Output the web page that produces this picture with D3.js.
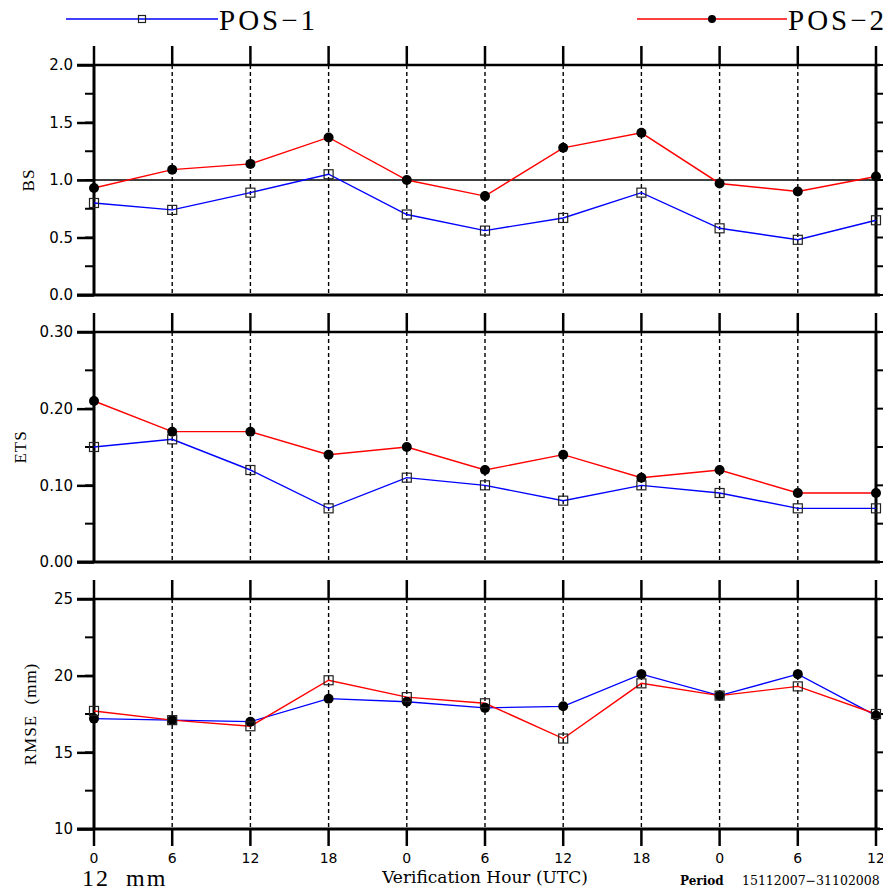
<!DOCTYPE html>
<html>
<head>
<meta charset="utf-8">
<script src="https://cdn.jsdelivr.net/npm/d3@7"></script>
<style>
  body { margin: 0; background: #fff; }
  svg { display: block; }
</style>
</head>
<body>
<svg id="chart" width="883" height="890"></svg>
<script>
// verification hours along the x axis
var hours = ["0", "6", "12", "18", "0", "6", "12", "18", "0", "6", "12"];

var seriesNames = ["POS\u22121", "POS\u22122"];

var bsPos1 = [0.80, 0.74, 0.89, 1.05, 0.70, 0.56, 0.67, 0.89, 0.58, 0.48, 0.65];
var bsPos2 = [0.93, 1.09, 1.14, 1.37, 1.00, 0.86, 1.28, 1.41, 0.97, 0.90, 1.03];

var etsPos1 = [0.15, 0.16, 0.12, 0.07, 0.11, 0.10, 0.08, 0.10, 0.09, 0.07, 0.07];
var etsPos2 = [0.21, 0.17, 0.17, 0.14, 0.15, 0.12, 0.14, 0.11, 0.12, 0.09, 0.09];

var rmsePos1 = [17.2, 17.1, 17.0, 18.5, 18.3, 17.9, 18.0, 20.1, 18.7, 20.1, 17.4];
var rmsePos2 = [17.7, 17.1, 16.7, 19.7, 18.6, 18.2, 15.9, 19.5, 18.7, 19.3, 17.5];

var bsTicks = [0.0, 0.5, 1.0, 1.5, 2.0];
var etsTicks = [0.00, 0.10, 0.20, 0.30];
var rmseTicks = [10, 15, 20, 25];

var svg = d3.select("#chart");

var left = 94, right = 876;
var x = d3.scaleLinear()
    .domain([0, hours.length - 1])
    .range([left, right]);

var colors = ["#0000ff", "#ff0000"];

var panels = [
    {label: "BS", top: 65, bottom: 295, domain: [0, 2], ticks: bsTicks, minor: 0.25, fmt: d3.format(".1f"),
     data: [bsPos1, bsPos2], marks: ["square", "dot"], refLine: 1.0, labelX: 28},
    {label: "ETS", top: 332, bottom: 562, domain: [0, 0.3], ticks: etsTicks, minor: 0.05, fmt: d3.format(".2f"),
     data: [etsPos1, etsPos2], marks: ["square", "dot"], labelX: 20},
    {label: "RMSE  (mm)", top: 599, bottom: 829, domain: [10, 25], ticks: rmseTicks, minor: 2.5, fmt: d3.format("d"),
     data: [rmsePos1, rmsePos2], marks: ["dot", "square"], labelX: 30}
];

panels.forEach(function(p, pi) {
    var y = d3.scaleLinear().domain(p.domain).range([p.bottom, p.top]);
    var g = svg.append("g");

    // dashed verticals
    g.selectAll(".grid")
        .data(d3.range(1, hours.length - 1))
        .enter().append("line")
        .attr("x1", function(d) { return x(d); })
        .attr("x2", function(d) { return x(d); })
        .attr("y1", p.top)
        .attr("y2", p.bottom)
        .attr("stroke", "#000")
        .attr("stroke-width", 1.4)
        .attr("stroke-dasharray", "4,3");

    // top ticks (outward)
    g.selectAll(".ttick")
        .data(d3.range(hours.length))
        .enter().append("line")
        .attr("x1", function(d) { return x(d); })
        .attr("x2", function(d) { return x(d); })
        .attr("y1", p.top - 19)
        .attr("y2", p.top)
        .attr("stroke", "#000")
        .attr("stroke-width", 2.5);

    if (pi == panels.length - 1) {
        g.selectAll(".btick")
            .data(d3.range(hours.length))
            .enter().append("line")
            .attr("x1", function(d) { return x(d); })
            .attr("x2", function(d) { return x(d); })
            .attr("y1", p.bottom)
            .attr("y2", p.bottom + 17)
            .attr("stroke", "#000")
            .attr("stroke-width", 2.5);

        g.selectAll(".xlab")
            .data(hours)
            .enter().append("text")
            .attr("x", function(d, i) { return x(i); })
            .attr("y", p.bottom + 34)
            .attr("text-anchor", "middle")
            .style("font-family", "DejaVu Sans")
            .style("font-size", "14px")
            .text(function(d) { return d; });
    }

    // minor + major ticks
    var minorTicks = d3.range(p.domain[0], p.domain[1] + p.minor / 2, p.minor);
    g.selectAll(".mtick")
        .data(minorTicks)
        .enter().append("line")
        .attr("x1", left - 9)
        .attr("x2", left)
        .attr("y1", function(d) { return y(d); })
        .attr("y2", function(d) { return y(d); })
        .attr("stroke", "#000")
        .attr("stroke-width", 2);
    g.selectAll(".rtick")
        .data(minorTicks)
        .enter().append("line")
        .attr("x1", right)
        .attr("x2", right + 8)
        .attr("y1", function(d) { return y(d); })
        .attr("y2", function(d) { return y(d); })
        .attr("stroke", "#000")
        .attr("stroke-width", 2);

    var yAxis = d3.axisLeft(y)
        .tickValues(p.ticks)
        .tickFormat(p.fmt)
        .tickSize(17)
        .tickPadding(4);
    var ax = g.append("g")
        .attr("transform", "translate(" + left + ",0)")
        .call(yAxis);
    ax.select(".domain").remove();
    ax.selectAll(".tick line").attr("stroke-width", 2.5);
    ax.selectAll(".tick text")
        .style("font-family", "DejaVu Sans")
        .style("font-size", "15px")
        .attr("fill", "#000");

    // frame
    g.append("line").attr("x1", left - 17).attr("x2", right + 4)
        .attr("y1", p.top).attr("y2", p.top).attr("stroke", "#000").attr("stroke-width", 2.5);
    g.append("line").attr("x1", left - 17).attr("x2", right + 4)
        .attr("y1", p.bottom).attr("y2", p.bottom).attr("stroke", "#000").attr("stroke-width", 3);
    g.append("line").attr("x1", left).attr("x2", left)
        .attr("y1", p.top).attr("y2", p.bottom).attr("stroke", "#000").attr("stroke-width", 3);
    g.append("line").attr("x1", right).attr("x2", right)
        .attr("y1", p.top).attr("y2", p.bottom).attr("stroke", "#000").attr("stroke-width", 3);

    if (p.refLine != null) {
        g.append("line").attr("x1", left - 17).attr("x2", right)
            .attr("y1", y(p.refLine)).attr("y2", y(p.refLine))
            .attr("stroke", "#000").attr("stroke-width", 1.3);
    }

    g.append("text")
        .attr("transform", "translate(" + p.labelX + "," + ((p.top + p.bottom) / 2) + ") rotate(-90)")
        .attr("text-anchor", "middle")
        .attr("dy", "0.35em")
        .attr("xml:space", "preserve")
        .style("white-space", "pre")
        .style("font-family", "Liberation Serif")
        .style("font-size", "17px")
        .style("letter-spacing", "1px")
        .text(p.label);

    var line = d3.line()
        .x(function(d, i) { return x(i); })
        .y(function(d) { return y(d); });

    p.data.forEach(function(vals, si) {
        g.append("path")
            .datum(vals)
            .attr("d", line)
            .attr("fill", "none")
            .attr("stroke", colors[si])
            .attr("stroke-width", 1.4);
    });

    p.data.forEach(function(vals, si) {
        if (p.marks[si] == "dot") {
            g.selectAll(".dot" + si)
                .data(vals)
                .enter().append("circle")
                .attr("cx", function(d, i) { return x(i); })
                .attr("cy", function(d) { return y(d); })
                .attr("r", 5)
                .attr("fill", "#000");
        } else {
            g.selectAll(".sq" + si)
                .data(vals)
                .enter().append("rect")
                .attr("x", function(d, i) { return x(i) - 4.5; })
                .attr("y", function(d) { return y(d) - 4.5; })
                .attr("width", 9)
                .attr("height", 9)
                .attr("fill", "none")
                .attr("stroke", "#222")
                .attr("stroke-width", 1.2);
        }
    });
});

// legend
var legend = svg.append("g");
var legendItems = [
    {x1: 66, x2: 218, mark: "square"},
    {x1: 637, x2: 787, mark: "dot"}
];
legendItems.forEach(function(item, i) {
    legend.append("line")
        .attr("x1", item.x1).attr("x2", item.x2)
        .attr("y1", 19).attr("y2", 19)
        .attr("stroke", colors[i])
        .attr("stroke-width", 1.4);
    var mx = (item.x1 + item.x2) / 2;
    if (item.mark == "dot") {
        legend.append("circle").attr("cx", mx).attr("cy", 19).attr("r", 4).attr("fill", "#000");
    } else {
        legend.append("rect").attr("x", mx - 3.5).attr("y", 15.5).attr("width", 7).attr("height", 7)
            .attr("fill", "none").attr("stroke", "#222").attr("stroke-width", 1.2);
    }
    legend.append("text")
        .attr("x", item.x2 + 1)
        .attr("y", 30)
        .style("font-family", "Liberation Serif")
        .style("font-size", "29px")
        .style("letter-spacing", "3px")
        .text(seriesNames[i]);
});

// bottom captions
svg.append("text")
    .attr("x", 82).attr("y", 886)
    .attr("xml:space", "preserve")
    .style("white-space", "pre")
    .style("font-family", "Liberation Serif")
    .style("font-size", "24px")
    .style("letter-spacing", "2px")
    .text("12  mm");

svg.append("text")
    .attr("x", 485).attr("y", 883)
    .attr("text-anchor", "middle")
    .style("font-family", "DejaVu Serif")
    .style("font-size", "17px")
    .text("Verification Hour (UTC)");

svg.append("text")
    .attr("x", 680).attr("y", 885)
    .style("font-family", "DejaVu Serif")
    .style("font-size", "12px")
    .style("font-weight", "bold")
    .text("Period");

svg.append("text")
    .attr("x", 742).attr("y", 885)
    .style("font-family", "DejaVu Serif")
    .style("font-size", "12.5px")
    .text("15112007\u221231102008");
</script>
</body>
</html>
